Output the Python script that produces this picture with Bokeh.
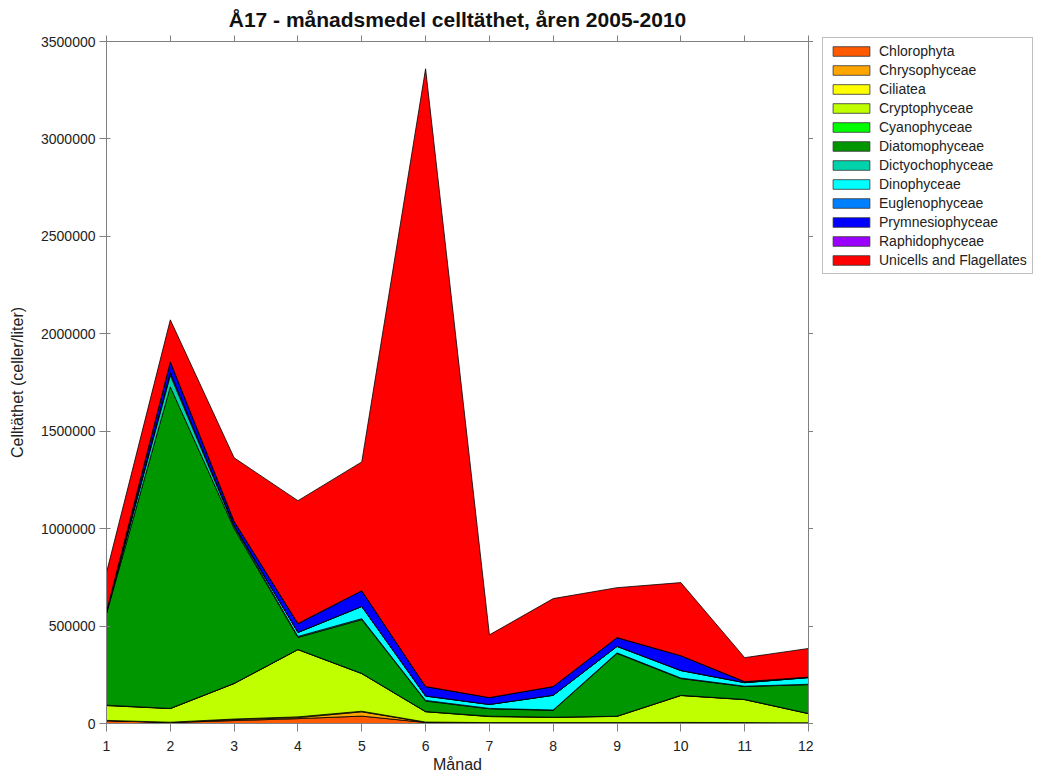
from bokeh.plotting import figure
from bokeh.layouts import row, column
from bokeh.models import (LinearAxis, FixedTicker, Legend, LegendItem, Range1d,
                          BasicTickFormatter, CustomJSTickFormatter, Spacer)
from bokeh.embed import file_html
from bokeh.resources import INLINE

# ---------------- data ----------------
months = [1, 2, 3, 4, 5, 6, 7, 8, 9, 10, 11, 12]
y_ticks = [0, 500000, 1000000, 1500000, 2000000, 2500000, 3000000, 3500000]

names = ["Chlorophyta", "Chrysophyceae", "Ciliatea", "Cryptophyceae", "Cyanophyceae",
         "Diatomophyceae", "Dictyochophyceae", "Dinophyceae", "Euglenophyceae",
         "Prymnesiophyceae", "Raphidophyceae", "Unicells and Flagellates"]

chlorophyta = [14000, 5000, 15000, 25000, 38000, 5000, 3000, 3000, 3000, 4000, 3000, 2000]
chrysophyceae = [1000, 500, 5000, 5000, 22000, 1000, 500, 500, 500, 500, 500, 500]
ciliatea = [1000, 1000, 3000, 4000, 3000, 1500, 1000, 1000, 1000, 1000, 1000, 1000]
cryptophyceae = [76000, 70000, 182000, 345000, 193000, 53000, 31000, 27000, 32000, 138000, 118000, 47000]
cyanophyceae = [2000, 1000, 1000, 1000, 1000, 1000, 2000, 1000, 1000, 1000, 1000, 1000]
diatomophyceae = [470000, 1650000, 795000, 62000, 276000, 54000, 38000, 35000, 322000, 86000, 66000, 148000]
dictyochophyceae = [5000, 60000, 10000, 5000, 5000, 3000, 2000, 2000, 3000, 3000, 2000, 2000]
dinophyceae = [3000, 12000, 5000, 20000, 62000, 22000, 20000, 75000, 33000, 38000, 18000, 34000]
euglenophyceae = [500, 1000, 1000, 1000, 1000, 1000, 500, 500, 500, 500, 500, 500]
prymnesiophyceae = [2000, 55000, 20000, 45000, 80000, 48000, 35000, 45000, 45000, 76000, 5000, 2000]
raphidophyceae = [0, 1000, 500, 500, 500, 500, 0, 0, 0, 0, 0, 0]
unicells = [200000, 215000, 326000, 630000, 661000, 3170000, 322000, 451000, 256000, 375000, 123000, 147000]

colors = ["#ff5a00", "#ffa500", "#ffff00", "#bfff00", "#00ff00", "#009600",
          "#00d2aa", "#00ffff", "#0080ff", "#0000ff", "#9b00ff", "#ff0000"]

layers = [chlorophyta, chrysophyceae, ciliatea, cryptophyceae, cyanophyceae,
          diatomophyceae, dictyochophyceae, dinophyceae, euglenophyceae,
          prymnesiophyceae, raphidophyceae, unicells]

FONT = "Liberation Sans"
AXIS_GRAY = "#808080"
TEXT = "#222222"
FW, FH = 702, 682

p = figure(frame_width=FW, frame_height=FH,
           x_range=Range1d(1, 12), y_range=Range1d(0, 3500000),
           output_backend="svg", toolbar_location=None,
           min_border_left=10, min_border_top=10, min_border_bottom=10,
           min_border_right=0,
           title="Å17 - månadsmedel celltäthet, åren 2005-2010")

p.title.align = "center"
p.title.text_font = FONT
p.title.text_font_size = "21px"
p.title.text_font_style = "bold"
p.title.text_color = "#111111"

p.xgrid.visible = False
p.ygrid.visible = False
p.outline_line_color = AXIS_GRAY

# legend panel figure: same polygons drawn outside its visible range,
# only used so that the legend swatches have glyphs to draw
LG_W, LG_H = 215, 240
lg = figure(width=LG_W, height=LG_H, x_range=Range1d(100, 101), y_range=Range1d(0, 1),
            output_backend="svg", toolbar_location=None,
            min_border=0, min_border_left=0, min_border_right=0,
            min_border_top=0, min_border_bottom=0)
lg.axis.visible = False
lg.grid.visible = False
lg.outline_line_color = None

# stacked polygons
lower = [0] * len(months)
items = []
for name, vals, col in zip(names, layers, colors):
    upper = [a + b for a, b in zip(lower, vals)]
    xs = months + months[::-1]
    ys = upper + lower[::-1]
    p.patch(xs, ys, fill_color=col, line_color="black", line_width=0.8)
    r = lg.patch(xs, ys, fill_color=col, line_color="#333333", line_width=0.8)
    items.append(LegendItem(label=name, renderers=[r]))
    lower = upper

# axes
xa = p.xaxis[0]
xa.ticker = FixedTicker(ticks=months)
xa.axis_label = "Månad"
ya = p.yaxis[0]
ya.ticker = FixedTicker(ticks=y_ticks)
ya.formatter = BasicTickFormatter(use_scientific=False)
ya.axis_label = "Celltäthet (celler/liter)"

for ax in (xa, ya):
    ax.axis_line_color = AXIS_GRAY
    ax.major_tick_line_color = AXIS_GRAY
    ax.minor_tick_line_color = None
    ax.major_label_text_font = FONT
    ax.major_label_text_font_size = "14px"
    ax.major_label_text_color = TEXT
    ax.axis_label_text_font = FONT
    ax.axis_label_text_font_size = "16px"
    ax.axis_label_text_font_style = "normal"
    ax.axis_label_text_color = TEXT

xa.major_tick_out = 8
xa.major_tick_in = 0
xa.major_label_standoff = 9
xa.axis_label_standoff = 2
ya.major_tick_out = 7
ya.major_tick_in = 4
ya.major_label_standoff = 4
ya.axis_label_standoff = 12

blank = CustomJSTickFormatter(code="return ''")
top = LinearAxis(ticker=FixedTicker(ticks=months), formatter=blank,
                 major_tick_out=6, major_tick_in=0, axis_line_color=AXIS_GRAY,
                 major_tick_line_color=AXIS_GRAY, minor_tick_line_color=None,
                 major_label_standoff=0, major_label_text_font_size="1px")
right = LinearAxis(ticker=FixedTicker(ticks=y_ticks), formatter=blank,
                   major_tick_out=5, major_tick_in=0, axis_line_color=AXIS_GRAY,
                   major_tick_line_color=AXIS_GRAY, minor_tick_line_color=None,
                   major_label_standoff=0, major_label_text_font_size="1px")
p.add_layout(top, "above")
p.add_layout(right, "right")

legend = Legend(items=items, location="top_left", margin=0, padding=5,
                spacing=3, glyph_width=46, glyph_height=12, label_height=14,
                label_standoff=5, label_text_font=FONT, label_text_font_size="14px",
                label_text_color=TEXT, border_line_color=AXIS_GRAY,
                border_line_width=1, background_fill_alpha=1.0)
lg.add_layout(legend)

page = row(Spacer(width=5), p, Spacer(width=9), column(Spacer(height=37), lg))
open("out.html", "w").write(file_html(page, INLINE))
